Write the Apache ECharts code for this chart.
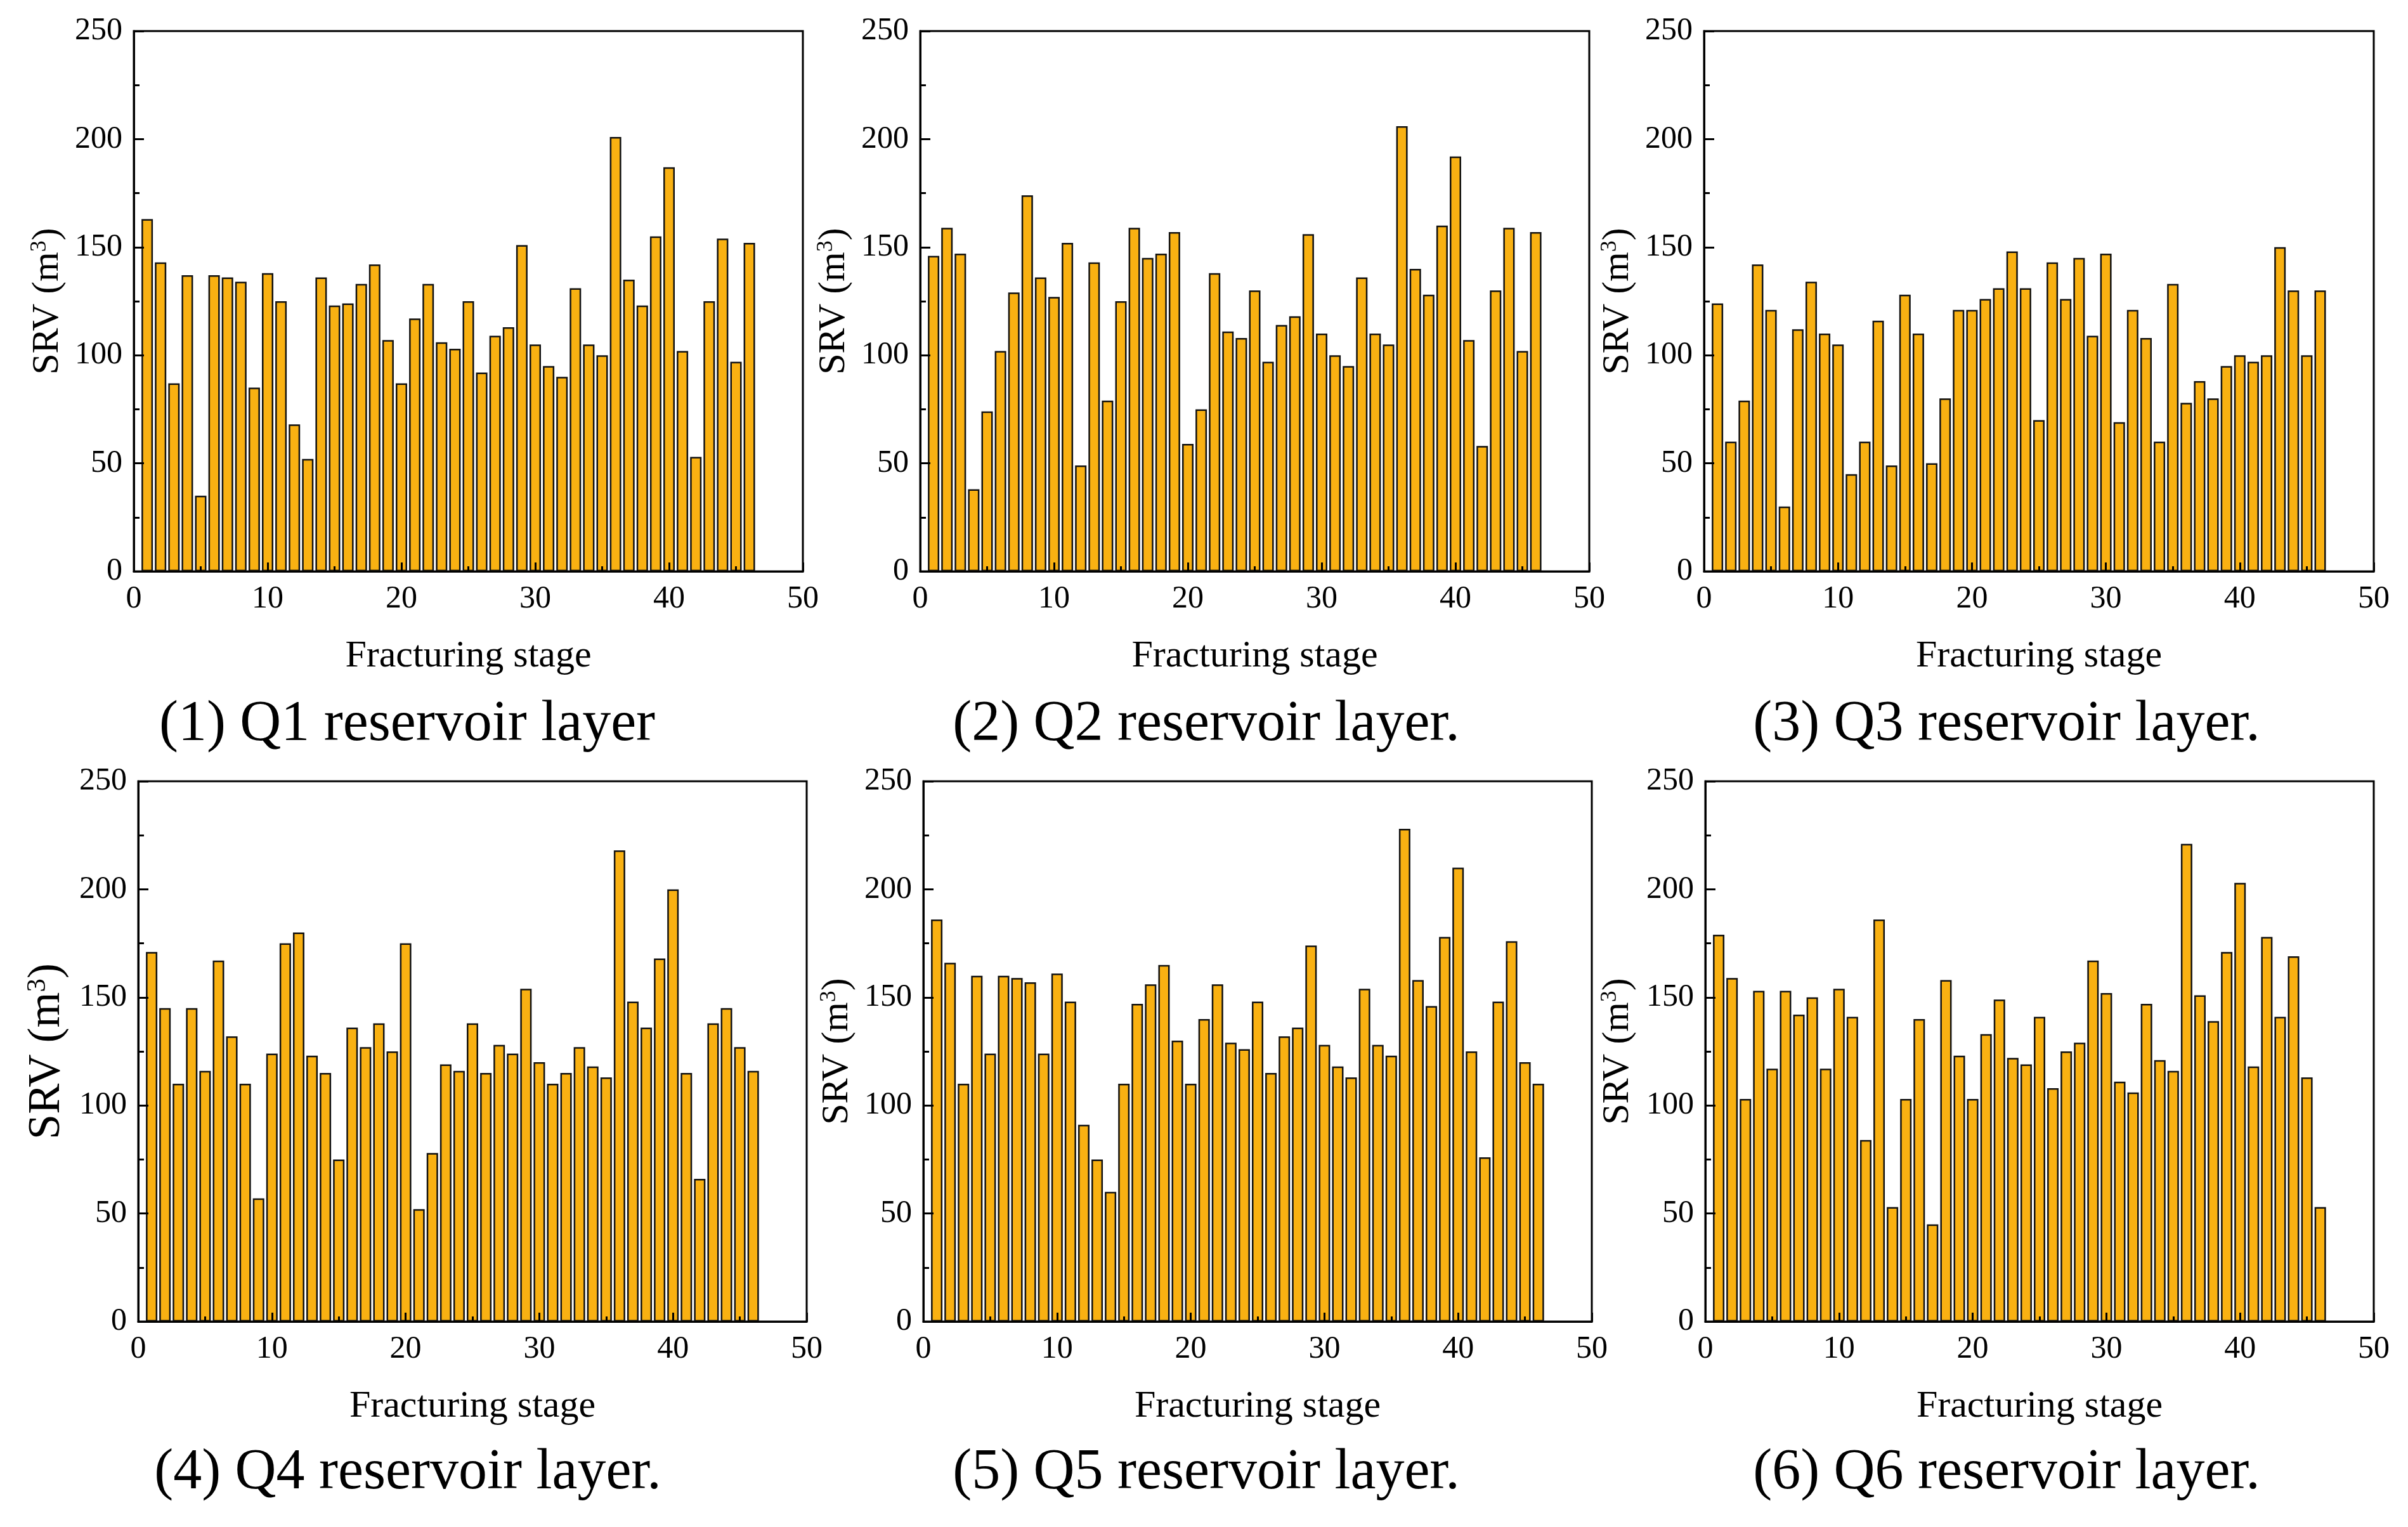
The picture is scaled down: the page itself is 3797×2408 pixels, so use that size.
<!DOCTYPE html>
<html>
<head>
<meta charset="utf-8">
<script src="https://cdn.jsdelivr.net/npm/echarts@6/dist/echarts.min.js"></script>
<style>
html,body{margin:0;padding:0;background:#fff;}
#chart{width:3797px;height:2408px;}
</style>
</head>
<body>
<div id="chart"></div>
<script>
// fracturing stage numbers
var stages = [1,2,3,4,5,6,7,8,9,10,11,12,13,14,15,16,17,18,19,20,21,22,23,24,25,26,27,28,29,30,31,32,33,34,35,36,37,38,39,40,41,42,43,44,45,46];

// SRV per stage, one list per reservoir layer
var srvQ1 = [163,143,87,137,35,137,136,134,85,138,125,68,52,136,123,124,133,142,107,87,117,133,106,103,125,92,109,113,151,105,95,90,131,105,100,201,135,123,155,187,102,53,125,154,97,152];
var srvQ2 = [146,159,147,38,74,102,129,174,136,127,152,49,143,79,125,159,145,147,157,59,75,138,111,108,130,97,114,118,156,110,100,95,136,110,105,206,140,128,160,192,107,58,130,159,102,157];
var srvQ3 = [124,60,79,142,121,30,112,134,110,105,45,60,116,49,128,110,50,80,121,121,126,131,148,131,70,143,126,145,109,147,69,121,108,60,133,78,88,80,95,100,97,100,150,130,100,130];
var srvQ4 = [171,145,110,145,116,167,132,110,57,124,175,180,123,115,75,136,127,138,125,175,52,78,119,116,138,115,128,124,154,120,110,115,127,118,113,218,148,136,168,200,115,66,138,145,127,116];
var srvQ5 = [186,166,110,160,124,160,159,157,124,161,148,91,75,60,110,147,156,165,130,110,140,156,129,126,148,115,132,136,174,128,118,113,154,128,123,228,158,146,178,210,125,76,148,176,120,110];
var srvQ6 = [179,159,103,153,117,153,142,150,117,154,141,84,186,53,103,140,45,158,123,103,133,149,122,119,141,108,125,129,167,152,111,106,147,121,116,221,151,139,171,203,118,178,141,169,113,53];

var layerData = [srvQ1, srvQ2, srvQ3, srvQ4, srvQ5, srvQ6];
var panelTitles = ['(1) Q1 reservoir layer', '(2) Q2 reservoir layer.', '(3) Q3 reservoir layer.',
                   '(4) Q4 reservoir layer.', '(5) Q5 reservoir layer.', '(6) Q6 reservoir layer.'];
var xTitle = 'Fracturing stage';
var yTitle = 'SRV (m{sup|3})';

// plot boxes in pixels: left, top, width, height
var boxes = [
  [211, 49, 1055, 852], [1451, 49, 1055, 852], [2687, 49, 1056, 852],
  [218, 1232, 1054, 852], [1456, 1232, 1054, 852], [2689, 1232, 1054, 852]
];
var titlePos = [[642, 1143], [1902, 1143], [3164, 1143], [643, 2323], [1902, 2323], [3164, 2323]];
var yNameSize = [60, 60, 60, 72, 60, 60];
var yNameGap = [106, 106, 106, 108, 106, 108];

var FONT = 'Liberation Serif';
var chart = echarts.init(document.getElementById('chart'));

var grids = [], xAxes = [], yAxes = [], series = [], graphics = [];
for (var i = 0; i < 6; i++) {
  var b = boxes[i];
  grids.push({left: b[0], top: b[1], width: b[2], height: b[3], show: true,
              borderColor: '#000', borderWidth: 3, containLabel: false});
  xAxes.push({
    gridIndex: i, type: 'value', min: 0, max: 50, interval: 10, z: 3,
    name: xTitle, nameLocation: 'middle', nameGap: 104,
    nameTextStyle: {fontFamily: FONT, fontSize: 60, color: '#000'},
    axisLine: {show: true, lineStyle: {color: '#000', width: 3}},
    axisTick: {show: true, inside: true, length: 14, lineStyle: {color: '#000', width: 3}},
    minorTick: {show: true, splitNumber: 2, length: 8, lineStyle: {color: '#000', width: 3}},
    axisLabel: {fontFamily: FONT, fontSize: 50, color: '#000', margin: 19},
    splitLine: {show: false}
  });
  yAxes.push({
    gridIndex: i, type: 'value', min: 0, max: 250, interval: 50, z: 3,
    name: yTitle, nameLocation: 'middle', nameGap: yNameGap[i], nameRotate: 90,
    nameTextStyle: {fontFamily: FONT, fontSize: yNameSize[i], color: '#000',
      rich: {sup: {fontFamily: FONT, fontSize: Math.round(yNameSize[i] * 0.6), color: '#000', verticalAlign: 'top'}}},
    axisLine: {show: true, lineStyle: {color: '#000', width: 3}},
    axisTick: {show: true, inside: true, length: 16, lineStyle: {color: '#000', width: 3}},
    minorTick: {show: true, splitNumber: 2, length: 9, lineStyle: {color: '#000', width: 3}},
    axisLabel: {fontFamily: FONT, fontSize: 50, color: '#000', margin: 18},
    splitLine: {show: false}
  });
  var pts = [];
  for (var k = 0; k < stages.length; k++) pts.push([stages[k], layerData[i][k]]);
  series.push({
    type: 'bar', xAxisIndex: i, yAxisIndex: i, data: pts, barWidth: 18,
    itemStyle: {color: '#F9B112', borderColor: '#111', borderWidth: 2.5},
    silent: true
  });
  graphics.push({
    type: 'text', x: titlePos[i][0], y: titlePos[i][1],
    style: {text: panelTitles[i], fontFamily: FONT, fontSize: 90, fill: '#000',
            textAlign: 'center', textVerticalAlign: 'middle'}
  });
}

chart.setOption({
  backgroundColor: '#fff',
  animation: false,
  grid: grids,
  xAxis: xAxes,
  yAxis: yAxes,
  series: series,
  graphic: graphics
});
</script>
</body>
</html>
